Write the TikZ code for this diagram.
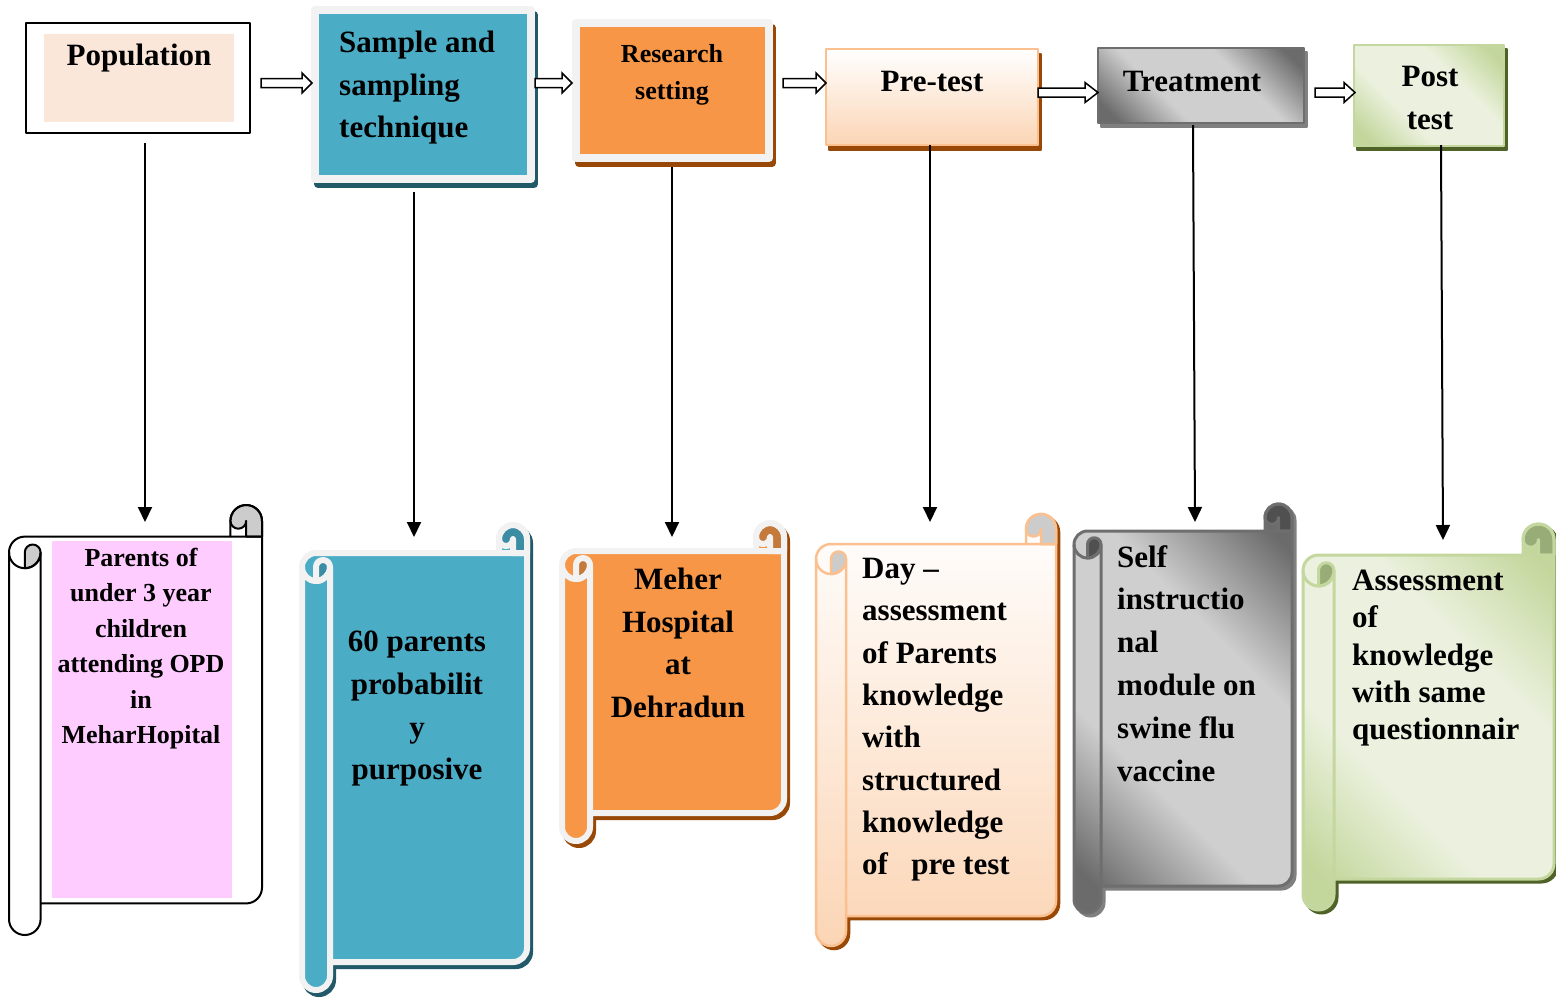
\documentclass[tikz,border=0pt]{standalone}
\usepackage{fontspec}
\setmainfont{Liberation Serif}
\usetikzlibrary{arrows.meta,calc}
\definecolor{popfill}{HTML}{FBE7DA}
\definecolor{tealc}{HTML}{4BACC6}
\definecolor{tealsh}{HTML}{215968}
\definecolor{tealcurl}{HTML}{3B8DA4}
\definecolor{orangec}{HTML}{F79646}
\definecolor{brownsh}{HTML}{984807}
\definecolor{orangecurl}{HTML}{C57A3C}
\definecolor{framec}{HTML}{F2F2F2}
\definecolor{peachd}{HTML}{FBD5B5}
\definecolor{peachb}{HTML}{FAC090}
\definecolor{grayd}{HTML}{6B6B6B}
\definecolor{grayl}{HTML}{CFCFCF}
\definecolor{grayb}{HTML}{6E6E6E}
\definecolor{graysh}{HTML}{808080}
\definecolor{graycurl}{HTML}{505050}
\definecolor{greenl}{HTML}{EBF1DE}
\definecolor{greend}{HTML}{C3D69B}
\definecolor{greenb}{HTML}{C4D79E}
\definecolor{greensh}{HTML}{4F6228}
\definecolor{greencurl}{HTML}{98AC78}
\definecolor{pinkc}{HTML}{FFCCFF}
\definecolor{curlgray}{HTML}{CCCCCC}

\pgfdeclareverticalshading{graydiag}{100bp}{color(0bp)=(grayd); color(20bp)=(grayd); color(38bp)=(grayl); color(62bp)=(grayl); color(80bp)=(grayd); color(100bp)=(grayd)}
\pgfdeclareverticalshading{greendiag}{100bp}{color(0bp)=(greend); color(20bp)=(greend); color(38bp)=(greenl); color(62bp)=(greenl); color(80bp)=(greend); color(100bp)=(greend)}

% scroll geometry: L T R B c  (screen coordinates, y downwards)
\newcommand\scrollouter[5]{({#1},{#2+1.5*#5}) arc[start angle=180,end angle=270,radius={#5/2}] -- ({#3-#5},{#2+#5}) -- ({#3-#5},{#2+#5/2}) arc[start angle=180,end angle=360,radius={#5/2}] -- ({#3},{#4-1.5*#5}) arc[start angle=0,end angle=90,radius={#5/2}] -- ({#1+#5},{#4-#5}) -- ({#1+#5},{#4-#5/2}) arc[start angle=0,end angle=180,radius={#5/2}] -- cycle}
\newcommand\scrollleftcurl[5]{({#1+#5/2},{#2+1.5*#5}) arc[start angle=180,end angle=360,radius={#5/4}] arc[start angle=0,end angle=90,radius={#5/2}] -- cycle}
\newcommand\scrollrightcurl[5]{({#3-#5},{#2+#5/2}) arc[start angle=180,end angle=360,radius={#5/2}] -- ({#3},{#2+#5}) -- ({#3-#5/2},{#2+#5}) -- ({#3-#5/2},{#2+#5/2}) arc[start angle=0,end angle=180,radius={#5/4}] -- cycle}
\newcommand\scrolllines[5]{({#1+#5},{#2+1.5*#5}) -- ({#1+#5},{#4-#5}) ({#1},{#2+1.5*#5}) arc[start angle=180,end angle=0,radius={#5/2}] ({#3-#5},{#2+#5}) -- ({#3},{#2+#5})}
\newcommand\drawscroll[6]{%
 \path[#6 shadow] \scrollouter{#1}{#2}{#3}{#4}{#5};
 \path[#6 body] \scrollouter{#1}{#2}{#3}{#4}{#5};
 \path[#6 curl] \scrollleftcurl{#1}{#2}{#3}{#4}{#5};
 \path[#6 curl] \scrollrightcurl{#1}{#2}{#3}{#4}{#5};
 \draw[#6 line] \scrollouter{#1}{#2}{#3}{#4}{#5};
 \draw[#6 line] \scrollleftcurl{#1}{#2}{#3}{#4}{#5};
 \draw[#6 line] \scrollrightcurl{#1}{#2}{#3}{#4}{#5};
 \draw[#6 line] \scrolllines{#1}{#2}{#3}{#4}{#5};
}
\newcommand\blockarrow[3]{%
 \draw[blockarr] let \p1=(#1), \p2=(#2) in (\x1,\y1+4.5pt) -- (\x2-#3pt,\y1+4.5pt) -- (\x2-#3pt,\y1+10pt) -- (\x2,\y1) -- (\x2-#3pt,\y1-10pt) -- (\x2-#3pt,\y1-4.5pt) -- (\x1,\y1-4.5pt) -- cycle;}

\begin{document}
\begin{tikzpicture}[x=1pt,y=-1pt,line join=round,
  tx/.style 2 args={font=\fontsize{#1pt}{#2pt}\selectfont\bfseries, inner sep=0pt},
  boxshadow/.style={preaction={draw=#1, fill=#1, transform canvas={shift={(3pt,-5pt)}}}},
  boxshadowb/.style={preaction={draw=#1, fill=#1, transform canvas={shift={(3pt,-4pt)}}}},
  popbox/.style={draw=black, line width=1.5pt, fill=white, minimum width=224pt, minimum height=110pt, inner sep=0pt},
  sampbox/.style={draw=framec, line width=8pt, fill=tealc, minimum width=216pt, minimum height=169pt, inner sep=0pt, boxshadow=tealsh},
  resbox/.style={draw=framec, line width=8pt, fill=orangec, minimum width=193pt, minimum height=135pt, inner sep=0pt, boxshadow=brownsh},
  prebox/.style={draw=peachb, line width=2pt, top color=white, bottom color=peachd, minimum width=212pt, minimum height=96pt, inner sep=0pt, boxshadow=brownsh},
  trtbox/.style={draw=grayb, line width=2.5pt, shading=graydiag, shading angle=-45, minimum width=206pt, minimum height=75pt, inner sep=0pt, boxshadowb=graysh},
  postbox/.style={draw=greenb, line width=2.5pt, shading=greendiag, shading angle=-45, minimum width=150pt, minimum height=101pt, inner sep=0pt, boxshadowb=greensh},
  blockarr/.style={draw=black, fill=white, line width=1.5pt, line join=miter},
  varrow/.style={line width=2pt, -{Triangle[length=15pt,width=14pt]}},
  s1 shadow/.style={},
  s1 body/.style={fill=white},
  s1 curl/.style={fill=curlgray},
  s1 line/.style={draw=black, line width=2pt},
  s2 shadow/.style={fill=tealsh, draw=tealsh, line width=6pt, shift={(3,4)}},
  s2 body/.style={fill=tealc},
  s2 curl/.style={fill=tealcurl},
  s2 line/.style={draw=framec, line width=6pt},
  s3 shadow/.style={fill=brownsh, draw=brownsh, line width=6pt, shift={(3,4)}},
  s3 body/.style={fill=orangec},
  s3 curl/.style={fill=orangecurl},
  s3 line/.style={draw=framec, line width=6pt},
  s4 shadow/.style={fill=brownsh, draw=brownsh, line width=2.5pt, shift={(3,3)}},
  s4 body/.style={top color=white, bottom color=peachd},
  s4 curl/.style={fill=curlgray},
  s4 line/.style={draw=peachb, line width=2.5pt},
  s5 shadow/.style={fill=graysh, draw=graysh, line width=3pt, shift={(3,3)}},
  s5 body/.style={shade, shading=graydiag, shading angle=-45},
  s5 curl/.style={fill=graycurl},
  s5 line/.style={draw=grayb, line width=3pt},
  s6 shadow/.style={fill=greensh, draw=greensh, line width=3pt, shift={(3,3)}},
  s6 body/.style={shade, shading=greendiag, shading angle=-45},
  s6 curl/.style={fill=greencurl},
  s6 line/.style={draw=greenb, line width=3pt}
]
\path[use as bounding box] (0,0) rectangle (1556,997);

% ---------- scrolls ----------
\drawscroll{9}{505}{262}{935}{31.6}{s1}
\fill[pinkc] (52,541) rectangle (232,898);
\drawscroll{302}{525}{527}{990}{28}{s2}
\drawscroll{562}{523}{784}{841}{28}{s3}
\drawscroll{816}{514}{1056}{946}{30}{s4}
\drawscroll{1074}{504}{1292}{913}{27}{s5}
\drawscroll{1303}{524}{1554}{910}{31}{s6}

% ---------- top boxes ----------
\node[popbox] (pop) at (138,78) {};
\fill[popfill] (44,34) rectangle (234,122);
\node[sampbox] (samp) at (423,94.5) {};
\node[resbox] (res) at (672.5,90.5) {};
\node[prebox] (pre) at (932,97) {};
\node[trtbox, shade] (trt) at (1201,85.5) {};
\node[postbox, shade] (post) at (1429,95.5) {};

% ---------- block arrows between boxes ----------
\coordinate (a1s) at (261,83);   \coordinate (a1e) at (312,83);
\coordinate (a2s) at (535,83);   \coordinate (a2e) at (572,83);
\coordinate (a3s) at (783,83);   \coordinate (a3e) at (826,83);
\coordinate (a4s) at (1038,92.5); \coordinate (a4e) at (1098,92.5);
\coordinate (a5s) at (1315,92.5); \coordinate (a5e) at (1355,92.5);
\blockarrow{a1s}{a1e}{10}
\blockarrow{a2s}{a2e}{10}
\blockarrow{a3s}{a3e}{10}
\blockarrow{a4s}{a4e}{13}
\blockarrow{a5s}{a5e}{11}

% ---------- vertical arrows ----------
\coordinate (v1s) at (145,143);  \coordinate (v1e) at (145,522);
\coordinate (v2s) at (414,192);  \coordinate (v2e) at (414,537);
\coordinate (v3s) at (672,167);  \coordinate (v3e) at (672,537);
\coordinate (v4s) at (930,145);  \coordinate (v4e) at (930,522);
\coordinate (v5s) at (1193,125); \coordinate (v5e) at (1195,522);
\coordinate (v6s) at (1441,145); \coordinate (v6e) at (1443,540);
\draw[varrow] (v1s) -- (v1e);
\draw[varrow] (v2s) -- (v2e);
\draw[varrow] (v3s) -- (v3e);
\draw[varrow] (v4s) -- (v4e);
\draw[varrow] (v5s) -- (v5e);
\draw[varrow] (v6s) -- (v6e);

% ---------- texts ----------
\node[tx={31}{42.5}, anchor=base] (poptxt) at (139,65) {Population};
\node[tx={31}{42.5}, align=left, anchor=north west] (samptxt) at (339,31) {Sample and\\sampling\\technique};
\node[tx={26}{37}, align=center, anchor=north] (restxt) at (672,44) {Research\\setting};
\node[tx={31}{42.5}, anchor=base] (pretxt) at (932,91) {Pre-test};
\node[tx={31}{42.5}, anchor=base] (trttxt) at (1192,91) {Treatment};
\node[tx={31}{43}, align=center, anchor=north] (posttxt) at (1430,66) {Post\\test};

\node[tx={26}{35.4}, align=center, anchor=north] (s1txt) at (141,548) {Parents of\\under 3 year\\children\\attending OPD\\in\\MeharHopital};
\node[tx={31}{42.7}, align=center, anchor=north] (s2txt) at (417,631) {60 parents\\probabilit\\y\\purposive};
\node[tx={31}{42.6}, align=center, anchor=north] (s3txt) at (678,568) {Meher\\Hospital\\at\\Dehradun};
\node[tx={31}{42.3}, align=left, anchor=north west] (s4txt) at (862,558) {Day –\\assessment\\of Parents\\knowledge\\with\\structured\\knowledge\\of~~~pre test};
\node[tx={31}{42.8}, align=left, anchor=north west] (s5txt) at (1117,545) {Self\\instructio\\nal\\module on\\swine flu\\vaccine};
\node[tx={31}{37.25}, align=left, anchor=north west] (s6txt) at (1352,570) {Assessment\\of\\knowledge\\with same\\questionnair};
\end{tikzpicture}
\end{document}
